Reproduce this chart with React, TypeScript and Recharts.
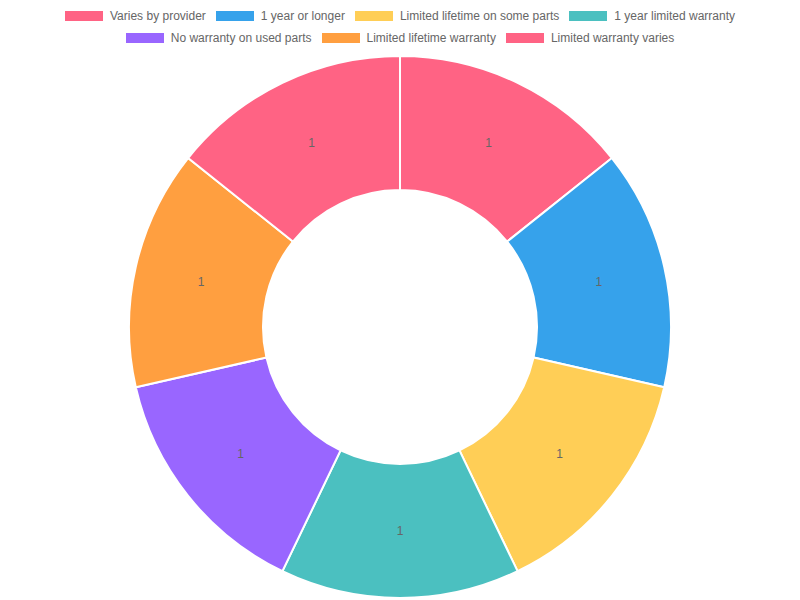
import { Cell, Pie, PieChart } from "recharts";

const categories = [
  "Varies by provider",
  "1 year or longer",
  "Limited lifetime on some parts",
  "1 year limited warranty",
  "No warranty on used parts",
  "Limited lifetime warranty",
  "Limited warranty varies",
];
const values = [1, 1, 1, 1, 1, 1, 1];
const colors = ["#FF6384", "#36A2EB", "#FFCE56", "#4BC0C0", "#9966FF", "#FF9F40", "#FF6384"];
const legendRows = [
  [0, 1, 2, 3],
  [4, 5, 6],
];

const data = categories.map((name, i) => ({ name, value: values[i] }));

const FONT = "'Liberation Sans', Arial, Helvetica, sans-serif";

const RADIAN = Math.PI / 180;

const renderLabel = (props: any) => {
  const { cx, cy, midAngle, innerRadius, outerRadius, value } = props;
  const r = (innerRadius + outerRadius) / 2;
  const x = cx + r * Math.cos(-midAngle * RADIAN);
  const y = cy + r * Math.sin(-midAngle * RADIAN);
  return (
    <text
      x={x}
      y={y}
      fill="#666"
      fontSize={12}
      fontFamily={FONT}
      textAnchor="middle"
      dominantBaseline="central"
    >
      {value}
    </text>
  );
};

const ChartLegend = () => (
  <div
    style={{
      position: "absolute",
      top: 5,
      left: 0,
      width: 800,
      fontFamily: FONT,
      fontSize: 12,
      color: "#666",
    }}
  >
    {legendRows.map((row, ri) => (
      <div
        key={ri}
        style={{ display: "flex", justifyContent: "center", height: 22, alignItems: "center" }}
      >
        {row.map((i) => (
          <div key={i} style={{ display: "flex", alignItems: "center", margin: "0 5px" }}>
            <span
              style={{
                display: "inline-block",
                width: 38,
                height: 10,
                background: colors[i],
                marginRight: 7,
              }}
            />
            <span>{categories[i]}</span>
          </div>
        ))}
      </div>
    ))}
  </div>
);

export default function App() {
  return (
    <div style={{ position: "absolute", left: 0, top: 0, width: 800, height: 600, background: "#fff" }}>
      <PieChart width={800} height={600} margin={{ top: 0, right: 0, bottom: 0, left: 0 }}>
        <Pie
          data={data}
          dataKey="value"
          nameKey="name"
          cx={400}
          cy={327}
          innerRadius={137}
          outerRadius={271}
          startAngle={90}
          endAngle={-270}
          stroke="#fff"
          strokeWidth={2}
          label={renderLabel}
          labelLine={false}
          isAnimationActive={false}
        >
          {data.map((_, i) => (
            <Cell key={i} fill={colors[i]} />
          ))}
        </Pie>
      </PieChart>
      <ChartLegend />
    </div>
  );
}
